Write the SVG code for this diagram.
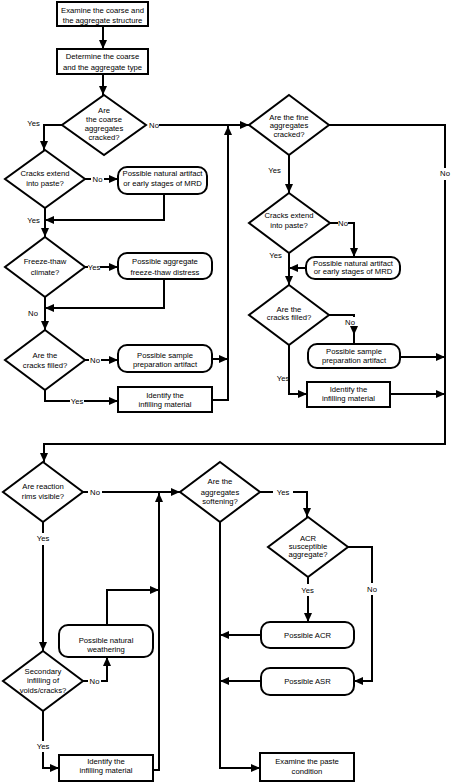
<svg xmlns="http://www.w3.org/2000/svg" width="465" height="783" viewBox="0 0 465 783">
<style>
.n rect,.n polygon{fill:#fff;stroke:#000;stroke-width:2}
.c path{fill:none;stroke:#000;stroke-width:2}
text{font-family:"Liberation Sans",Arial,sans-serif;font-size:7.7px;text-anchor:middle;fill:#000}
</style>
<defs>
<marker id="a" markerUnits="userSpaceOnUse" markerWidth="9" markerHeight="8" viewBox="0 0 9 8" refX="9" refY="4" orient="auto"><path d="M0,0 L9,4 L0,8 z" fill="#000"/></marker>
</defs>
<rect width="465" height="783" fill="#fff"/>
<g class="c" id="connectors">
<path d="M103,26 V49" marker-end="url(#a)"/>
<path d="M103,74 V95" marker-end="url(#a)"/>
<path d="M62,125 H44 V150" marker-end="url(#a)"/>
<path d="M159,125 H249" marker-end="url(#a)"/>
<path d="M85,179 H91"/><path d="M104,179 H118" marker-end="url(#a)"/>
<path d="M164,194 V220 H45" marker-end="url(#a)"/>
<path d="M45,208 V237" marker-end="url(#a)"/>
<path d="M85,267 H88"/><path d="M100,267 H118" marker-end="url(#a)"/>
<path d="M164,279 V308 H45" marker-end="url(#a)"/>
<path d="M45,297 V330" marker-end="url(#a)"/>
<path d="M85,360 H89"/><path d="M101,360 H118" marker-end="url(#a)"/>
<path d="M212,359 H228" marker-end="url(#a)"/>
<path d="M45,390 V401 H70"/><path d="M84,401 H118" marker-end="url(#a)"/>
<path d="M212,400 H228 V126" marker-end="url(#a)"/>
<path d="M289,155 V193" marker-end="url(#a)"/>
<path d="M329,125 H445 V168"/><path d="M445,180 V444 H44 V462" marker-end="url(#a)"/>
<path d="M330,223 H338"/><path d="M348,223 H354 V257" marker-end="url(#a)"/>
<path d="M306,268 H289" marker-end="url(#a)"/>
<path d="M289,253 V285" marker-end="url(#a)"/>
<path d="M329,315 H354 V317"/><path d="M354,327 V335" marker-end="url(#a)"/><path d="M354,333 V344"/>
<path d="M400,357 H445" marker-end="url(#a)"/>
<path d="M289,345 V394 H307" marker-end="url(#a)"/>
<path d="M390,394 H445" marker-end="url(#a)"/>
<path d="M83,492 H88"/><path d="M102,492 H180" marker-end="url(#a)"/>
<path d="M153,770 H159 V493" marker-end="url(#a)"/>
<path d="M43,522 V533"/><path d="M43,545 V651" marker-end="url(#a)"/>
<path d="M83,681 H88"/><path d="M101,681 H107 V657" marker-end="url(#a)"/>
<path d="M107,625 V590 H159" marker-end="url(#a)"/>
<path d="M43,711 V741"/><path d="M43,752 V768 H59" marker-end="url(#a)"/>
<path d="M260,492 H273"/><path d="M293,492 H307 V517" marker-end="url(#a)"/>
<path d="M348,547 H372 V583"/><path d="M372,595 V681 H354" marker-end="url(#a)"/>
<path d="M308,577 V584"/><path d="M308,596 V622" marker-end="url(#a)"/>
<path d="M261,635 H220" marker-end="url(#a)"/>
<path d="M261,681 H220" marker-end="url(#a)"/>
<path d="M220,522 V768 H260" marker-end="url(#a)"/>
<g id="connector-labels">
<text x="33.5" y="125.7">Yes</text>
<text x="154" y="127.7">No</text>
<text x="97.5" y="181.7">No</text>
<text x="33.5" y="222.7">Yes</text>
<text x="94" y="269.7">Yes</text>
<text x="33" y="316">No</text>
<text x="95" y="362.7">No</text>
<text x="77" y="403.7">Yes</text>
<text x="274.5" y="172.7">Yes</text>
<text x="445" y="175.7">No</text>
<text x="343" y="226">No</text>
<text x="275.5" y="257.7">Yes</text>
<text x="350" y="324.7">No</text>
<text x="283" y="380.7">Yes</text>
<text x="95" y="494.7">No</text>
<text x="43" y="541">Yes</text>
<text x="94.5" y="683.5">No</text>
<text x="43" y="749.4">Yes</text>
<text x="283" y="494.7">Yes</text>
<text x="372" y="591.7">No</text>
<text x="307.5" y="593.4">Yes</text>
</g>
</g>
<g class="n" id="n-examine-structure"><rect x="57" y="2" width="91" height="24"/><text x="102.5" y="13.3">Examine the coarse and</text><text x="102.5" y="22.8">the aggregate structure</text></g>
<g class="n" id="n-determine-type"><rect x="57" y="49" width="91" height="25"/><text x="102.5" y="59.4">Determine the coarse</text><text x="102.5" y="70.4">and the aggregate type</text></g>
<g class="n" id="n-coarse-cracked"><polygon points="104,95 146,125 104,155 62,125"/><text x="104" y="112.7">Are</text><text x="104" y="121.9">the coarse</text><text x="104" y="131.1">aggregates</text><text x="104" y="140.3">cracked?</text></g>
<g class="n" id="n-l-extend"><polygon points="45,150 85,179 45,208 5,179"/><text x="45" y="176">Cracks extend</text><text x="45" y="186">into paste?</text></g>
<g class="n" id="n-l-natural"><rect x="118" y="167" width="89" height="27" rx="9"/><text x="162.5" y="176">Possible natural artifact</text><text x="162.5" y="186">or early stages of MRD</text></g>
<g class="n" id="n-freeze"><polygon points="45,237 85,267 45,297 5,267"/><text x="45" y="264.4">Freeze-thaw</text><text x="45" y="275">climate?</text></g>
<g class="n" id="n-freeze-distress"><rect x="118" y="253" width="94" height="26" rx="9"/><text x="165" y="264.4">Possible aggregate</text><text x="165" y="275">freeze-thaw distress</text></g>
<g class="n" id="n-l-filled"><polygon points="45,330 85,360 45,390 5,360"/><text x="45" y="357.7">Are the</text><text x="45" y="367.7">cracks filled?</text></g>
<g class="n" id="n-l-sample"><rect x="118" y="345" width="94" height="27" rx="9"/><text x="165" y="357.7">Possible sample</text><text x="165" y="367">preparation artifact</text></g>
<g class="n" id="n-l-identify"><rect x="118" y="387" width="94" height="25"/><text x="165" y="397.7">Identify the</text><text x="165" y="407.2">infilling material</text></g>
<g class="n" id="n-fine-cracked"><polygon points="289,95 329,125 289,155 249,125"/><text x="289" y="119.7">Are the fine</text><text x="289" y="128.2">aggregates</text><text x="289" y="136.7">cracked?</text></g>
<g class="n" id="n-r-extend"><polygon points="289,193 330,223 289,253 249,223"/><text x="289" y="218">Cracks extend</text><text x="289" y="228">into paste?</text></g>
<g class="n" id="n-r-natural"><rect x="306" y="257" width="94" height="22" rx="9"/><text x="353" y="266">Possible natural artifact</text><text x="353" y="274.4">or early stages of MRD</text></g>
<g class="n" id="n-r-filled"><polygon points="289,285 329,315 289,345 249,315"/><text x="289" y="312">Are the</text><text x="289" y="320">cracks filled?</text></g>
<g class="n" id="n-r-sample"><rect x="308" y="344" width="92" height="24" rx="9"/><text x="354" y="354.4">Possible sample</text><text x="354" y="363.4">preparation artifact</text></g>
<g class="n" id="n-r-identify"><rect x="307" y="382" width="83" height="25"/><text x="348.5" y="392">Identify the</text><text x="348.5" y="401">infilling material</text></g>
<g class="n" id="n-rims"><polygon points="43,462 83,492 43,522 3,492"/><text x="43" y="489.4">Are reaction</text><text x="43" y="498.7">rims visible?</text></g>
<g class="n" id="n-weathering"><rect x="59" y="625" width="94" height="32" rx="9"/><text x="106" y="642.7">Possible natural</text><text x="106" y="652.2">weathering</text></g>
<g class="n" id="n-secondary"><polygon points="43,651 83,681 43,711 3,681"/><text x="43" y="673.5">Secondary</text><text x="43" y="683">infilling of</text><text x="43" y="692.5">voids/cracks?</text></g>
<g class="n" id="n-b-identify"><rect x="59" y="755" width="94" height="26"/><text x="106" y="763.7">Identify the</text><text x="106" y="772.7">infilling material</text></g>
<g class="n" id="n-softening"><polygon points="220,462 260,492 220,522 180,492"/><text x="220" y="484.4">Are the</text><text x="220" y="495">aggregates</text><text x="220" y="503.7">softening?</text></g>
<g class="n" id="n-acr-susceptible"><polygon points="308,517 348,547 308,577 268,547"/><text x="308" y="541">ACR</text><text x="308" y="549">susceptible</text><text x="308" y="557">aggregate?</text></g>
<g class="n" id="n-acr"><rect x="261" y="622" width="93" height="26" rx="9"/><text x="307.5" y="637.5">Possible ACR</text></g>
<g class="n" id="n-asr"><rect x="261" y="668" width="93" height="27" rx="9"/><text x="307.5" y="684">Possible ASR</text></g>
<g class="n" id="n-paste"><rect x="260" y="753" width="94" height="28"/><text x="307" y="764.4">Examine the paste</text><text x="307" y="774.4">condition</text></g>
</svg>
